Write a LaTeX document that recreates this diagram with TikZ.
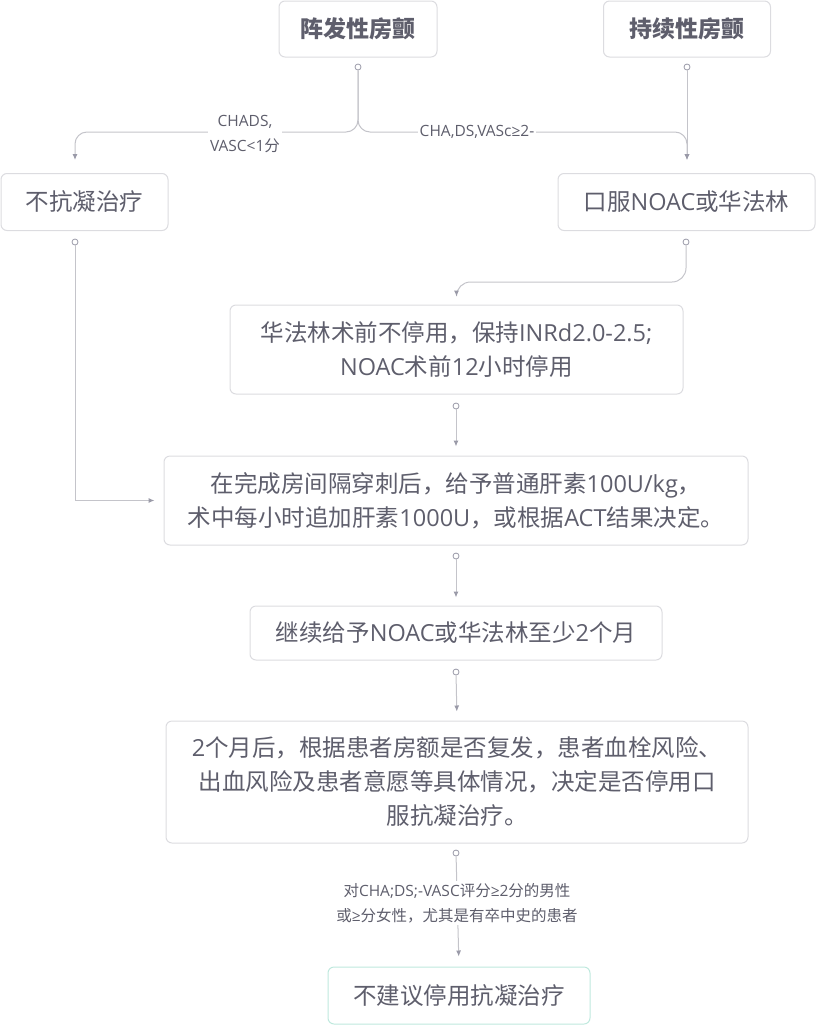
\documentclass[tikz,border=0pt]{standalone}
\usepackage{fontspec}
\setmainfont{Noto Sans CJK SC}
\newfontfamily\lat{Open Sans}
\usetikzlibrary{arrows.meta, positioning}
\definecolor{boxline}{HTML}{DCDCE0}
\definecolor{txtgray}{HTML}{5E5E6C}
\definecolor{connline}{HTML}{C4C4CA}
\definecolor{tipgray}{HTML}{9A9AA8}
\definecolor{endline}{HTML}{BFE9DE}
\tikzset{
    box/.style={draw=boxline, line width=1pt, rounded corners=6pt, fill=white, text=txtgray, align=center, font=\fontsize{23.5}{34}\selectfont},
    topbox/.style={box, font=\fontsize{23}{34}\selectfont\bfseries},
    endbox/.style={box, draw=endline},
    dot/.style={shape=circle, draw=tipgray, fill=white, line width=0.8pt, inner sep=0pt, minimum size=6pt},
    conn/.style={draw=connline, line width=1pt, -{Latex[length=6pt, width=5pt, fill=tipgray, color=tipgray]}},
    lbl/.style={fill=white, text=txtgray, align=center, inner sep=2pt, font=\fontsize{15.5}{25}\selectfont}}

\begin{document}
\begin{tikzpicture}[x=1pt, y=-1pt]
    \useasboundingbox (0,0) rectangle (816,1026);

    \node[topbox, minimum width=158pt, minimum height=56pt] (pd) at (358,29) {阵发性房颤};
    \node[topbox, minimum width=167pt, minimum height=56pt] (pc) at (687,29) {持续性房颤};
    \node[box, minimum width=167pt, minimum height=57pt] (nac) at (84.5,202) {不抗凝治疗};
    \node[box, minimum width=257pt, minimum height=57pt] (noac) at (686.5,202) {口服{\lat NOAC}或华法林};
    \node[box, minimum width=453pt, minimum height=89pt] (war) at (456.5,349.5) {华法林术前不停用，保持{\lat INRd2.0-2.5;}\\{\lat NOAC}术前{\lat 12}小时停用};
    \node[box, minimum width=584pt, minimum height=89pt] (hep) at (456,500.5) {在完成房间隔穿刺后，给予普通肝素{\lat 100U/kg}，\\术中每小时追加肝素{\lat 1000U}，或根据{\lat ACT}结果决定。};
    \node[box, minimum width=412pt, minimum height=54pt] (cont) at (456,633) {继续给予{\lat NOAC}或华法林至少{\lat 2}个月};
    \node[box, minimum width=582pt, minimum height=122pt] (rev) at (457,782) {{\lat 2}个月后，根据患者房额是否复发，患者血栓风险、\\出血风险及患者意愿等具体情况，决定是否停用口\\服抗凝治疗。};
    \node[endbox, minimum width=262pt, minimum height=57pt] (stop) at (459,995.5) {不建议停用抗凝治疗};

    \node[dot] (pd-dot) at (358,67) {};
    \node[dot] (pc-dot) at (687,67) {};
    \node[dot] (nac-dot) at (75,242) {};
    \node[dot] (noac-dot) at (686,242) {};
    \node[dot] (war-dot) at (456,406) {};
    \node[dot] (hep-dot) at (456,556) {};
    \node[dot] (cont-dot) at (456,672) {};
    \node[dot] (rev-dot) at (456,853) {};

    \coordinate (split) at (0,132);
    \coordinate (bend) at (0,282);
    \coordinate (nac-in) at (75,160);
    \coordinate (noac-in) at (687,160);

    \draw[conn, rounded corners=12pt] (pd-dot) -- (pd-dot |- split) -| (nac-in);
    \draw[conn, rounded corners=12pt] (pd-dot) -- (pd-dot |- split) -| (noac-in);
    \draw[conn] (pc-dot) -- (noac-in);
    \draw[conn, rounded corners=14pt, shorten >=8pt] (noac-dot) -- (noac-dot |- bend) -| (war.north);
    \draw[conn, shorten >=9pt] (nac-dot) |- (hep.west);
    \draw[conn, shorten >=9pt] (war-dot) -- (hep.north);
    \draw[conn, shorten >=8pt] (hep-dot) -- (cont.north);
    \draw[conn, shorten >=9pt] (cont-dot) -- (rev.north);
    \draw[conn, shorten >=10pt] (rev-dot) -- (stop.north);

    \node[lbl] (low-lbl) at (245,134) {{\lat CHADS,}\\{\lat VASC<1}分};
    \node[lbl] (high-lbl) at (477,132) {\lat CHA,DS,VASc≥2-};
    \node[lbl] (stop-lbl) at (457,903) {对{\lat CHA;DS;-VASC}评分{\lat ≥2}分的男性\\或{\lat ≥}分女性，尤其是有卒中史的患者};

\end{tikzpicture}
\end{document}
